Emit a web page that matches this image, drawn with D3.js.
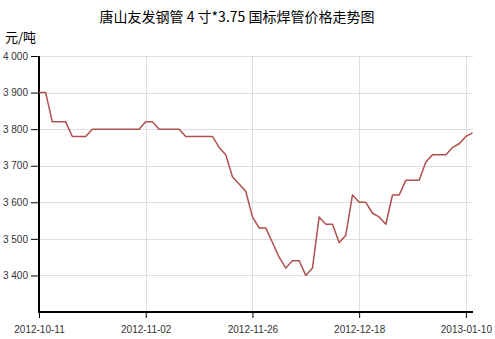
<!DOCTYPE html>
<html><head><meta charset="utf-8">
<script src="https://cdn.jsdelivr.net/npm/d3@7"></script>
<style>body{margin:0;background:#fff}svg{display:block}</style>
</head><body>
<script>
const title = "唐山友发钢管 4 寸*3.75 国标焊管价格走势图";
const unitLabel = "元/吨";
const dates = [
"2012-10-11","2012-10-12","2012-10-15","2012-10-16","2012-10-17","2012-10-18","2012-10-19",
"2012-10-22","2012-10-23","2012-10-24","2012-10-25","2012-10-26","2012-10-29","2012-10-30","2012-10-31",
"2012-11-01","2012-11-02","2012-11-05","2012-11-06","2012-11-07","2012-11-08","2012-11-09",
"2012-11-12","2012-11-13","2012-11-14","2012-11-15","2012-11-16","2012-11-19","2012-11-20","2012-11-21",
"2012-11-22","2012-11-23","2012-11-26","2012-11-27","2012-11-28","2012-11-29","2012-11-30",
"2012-12-03","2012-12-04","2012-12-05","2012-12-06","2012-12-07","2012-12-10","2012-12-11","2012-12-12",
"2012-12-13","2012-12-14","2012-12-17","2012-12-18","2012-12-19","2012-12-20","2012-12-21",
"2012-12-24","2012-12-25","2012-12-26","2012-12-27","2012-12-28","2012-12-31",
"2013-01-02","2013-01-03","2013-01-04","2013-01-07","2013-01-08","2013-01-09","2013-01-10","2013-01-11"];
const prices = [
3900,3900,3820,3820,3820,3780,3780,3780,3800,3800,3800,3800,3800,3800,3800,3800,
3820,3820,3800,3800,3800,3800,3780,3780,3780,3780,3780,3750,3730,3670,3650,3630,
3560,3530,3530,3490,3450,3420,3440,3440,3400,3420,3560,3540,3540,3490,3510,3620,
3600,3600,3570,3560,3540,3620,3620,3660,3660,3660,3710,3730,3730,3730,3750,3760,3780,3790];
const xTickLabels = ["2012-10-11","2012-11-02","2012-11-26","2012-12-18","2013-01-10"];
const yTickValues = [3400,3500,3600,3700,3800,3900,4000];

(function(){
const W = 495, H = 339;
const mL = 39, mR = 473, mT = 56, mB = 312;
const svg = d3.select("body").append("svg").attr("width", W).attr("height", H);

const x = d3.scalePoint().domain(dates).range([mL, mL + 6.67 * (dates.length - 1)]);
const y = d3.scaleLinear().domain([3300, 4000]).range([mB, mT]);
const fmt = v => d3.format(",")(v).replace(",", " ");

// grid
svg.append("g").selectAll("line").data(yTickValues).join("line")
  .attr("x1", mL).attr("x2", mR).attr("y1", d => Math.round(y(d)) + 0.5).attr("y2", d => Math.round(y(d)) + 0.5)
  .attr("stroke", "#dedede").attr("stroke-width", 1);
svg.append("g").selectAll("line").data(xTickLabels).join("line")
  .attr("x1", d => Math.round(x(d)) + 0.5).attr("x2", d => Math.round(x(d)) + 0.5).attr("y1", mT).attr("y2", mB)
  .attr("stroke", "#dedede").attr("stroke-width", 1);

// axes
const yAxis = d3.axisLeft(y).tickValues(yTickValues).tickFormat(fmt).tickSize(8).tickPadding(3);
const gy = svg.append("g").attr("transform", `translate(${mL},0)`).call(yAxis);
gy.select(".domain").remove();
gy.selectAll("line").attr("stroke", "#000").attr("stroke-width", 1);
gy.selectAll("text").attr("font-family", "Arial, 'Liberation Sans', sans-serif").attr("font-size", 10).attr("fill", "#333");

const xAxis = d3.axisBottom(x).tickValues(xTickLabels).tickSize(6).tickPadding(8);
const gx = svg.append("g").attr("transform", `translate(0,${mB})`).call(xAxis);
gx.select(".domain").remove();
gx.selectAll("line").attr("stroke", "#000").attr("stroke-width", 1);
gx.selectAll("text").attr("font-family", "Arial, 'Liberation Sans', sans-serif").attr("font-size", 10).attr("fill", "#333");

// axis lines
svg.append("line").attr("x1", mL).attr("x2", mL).attr("y1", mT).attr("y2", mB + 1)
  .attr("stroke", "#000").attr("stroke-width", 2);
svg.append("line").attr("x1", mL - 1).attr("x2", mR).attr("y1", mB).attr("y2", mB)
  .attr("stroke", "#000").attr("stroke-width", 2);

// line
const line = d3.line().x((d, i) => x(dates[i])).y(d => y(d));
svg.append("path").datum(prices).attr("d", line)
  .attr("fill", "none").attr("stroke", "#b0504c").attr("stroke-width", 1.5).attr("stroke-linejoin", "round");

// titles
svg.append("text").attr("x", 237).attr("y", 22).attr("text-anchor", "middle")
  .attr("font-family", "'Noto Sans CJK SC', sans-serif").attr("font-size", 14).attr("fill", "#000").text(title);
svg.append("text").attr("x", 5).attr("y", 42)
  .attr("font-family", "'Noto Sans CJK SC', sans-serif").attr("font-size", 13).attr("fill", "#000").text(unitLabel);
})();
</script>
</body></html>
